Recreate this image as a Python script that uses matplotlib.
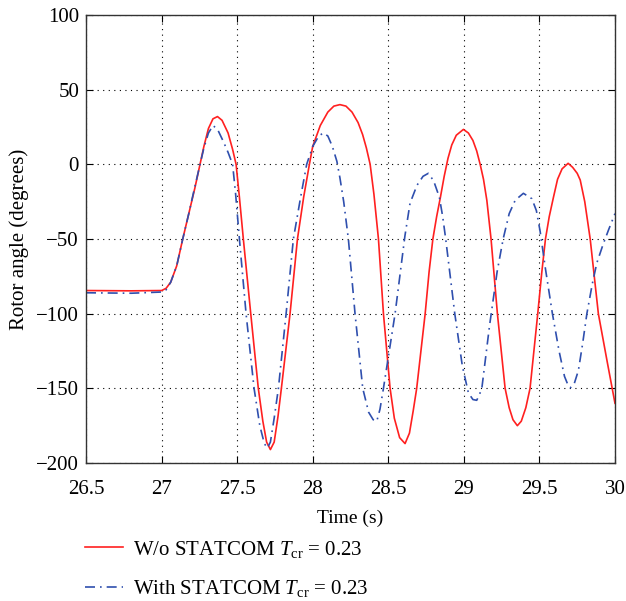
import matplotlib
matplotlib.use("Agg")
import matplotlib.pyplot as plt

plt.rcParams['font.family'] = ['Liberation Serif', 'DejaVu Serif']
plt.rcParams['mathtext.fontset'] = 'custom'
plt.rcParams['mathtext.rm'] = 'Liberation Serif'
plt.rcParams['mathtext.it'] = 'Liberation Serif:italic'

# rotor angle without STATCOM
t_wo = [26.5, 26.8, 27.0, 27.03, 27.06, 27.1, 27.14, 27.18, 27.22, 27.25, 27.28, 27.31,
        27.34, 27.37, 27.4, 27.44, 27.47, 27.493, 27.515, 27.541, 27.59, 27.64, 27.67,
        27.695, 27.72, 27.745, 27.77, 27.795, 27.85, 27.899, 27.94, 27.978, 28.0, 28.05,
        28.1, 28.14, 28.18, 28.22, 28.26, 28.3, 28.33, 28.355, 28.38, 28.405,
        28.435, 28.468, 28.512, 28.54, 28.575, 28.611, 28.64, 28.665, 28.688, 28.744,
        28.77, 28.795, 28.82, 28.845, 28.87, 28.895, 28.92, 28.95, 28.997, 29.03, 29.06,
        29.085, 29.108, 29.13, 29.152, 29.18, 29.222, 29.273, 29.3, 29.325, 29.354, 29.38,
        29.41, 29.438, 29.489, 29.515, 29.54, 29.565, 29.593, 29.62, 29.65, 29.69, 29.72,
        29.75, 29.77, 29.8, 29.836, 29.89, 29.95, 30.0]
a_wo = [-84.5, -84.7, -84.5, -83, -79, -68, -50, -33, -16, -2, 12, 24,
        30.5, 32, 29.5, 21, 10, 0, -22, -50, -100, -150, -172,
        -186, -191, -186, -169, -148, -100, -50, -22, 0, 12, 26,
        35, 39, 40, 39, 35, 28, 20, 11, 0, -20,
        -50, -100, -150, -170, -183, -187, -180, -165, -150, -100,
        -72, -50, -35, -22, -8, 4, 13, 19.5, 23.4, 21, 16,
        9, 0, -10, -24, -50, -100, -150, -163, -171, -175, -172,
        -163, -150, -100, -73, -50, -35, -22, -10, -3, 0.7, -2,
        -6, -10.5, -25, -50, -100, -133, -160]

# rotor angle with STATCOM
t_st = [26.5, 26.8, 27.0, 27.03, 27.06, 27.1, 27.14, 27.18, 27.22, 27.25, 27.28, 27.31,
        27.34, 27.37, 27.41, 27.44, 27.47, 27.49, 27.515, 27.559, 27.612, 27.65, 27.68,
        27.7, 27.72, 27.745, 27.773, 27.824, 27.872, 27.92, 27.96, 28.0, 28.04, 28.07,
        28.1, 28.13, 28.16, 28.18, 28.205, 28.236, 28.28, 28.331, 28.37, 28.4, 28.424,
        28.445, 28.468, 28.545, 28.61, 28.644, 28.69, 28.73, 28.765, 28.8, 28.838, 28.86,
        28.88, 28.94, 28.99, 29.03, 29.06, 29.085, 29.1, 29.119, 29.17, 29.22, 29.26,
        29.3, 29.34, 29.394, 29.45, 29.48, 29.505, 29.54, 29.586, 29.63, 29.666, 29.69,
        29.705, 29.73, 29.758, 29.786, 29.814, 29.85, 29.88, 29.92, 29.957, 30.0]
a_st = [-86, -86.3, -85.5, -84, -79, -68, -50, -33, -15, -2, 11, 21,
        26, 23.5, 15, 8, 0, -20, -50, -100, -150, -175, -187,
        -190, -186, -170, -150, -100, -50, -22, 0, 12, 19, 21,
        19, 12, 2, -9, -25, -50, -100, -150, -166, -171, -172,
        -164, -150, -100, -48, -26, -14, -8, -6, -11, -22, -35,
        -50, -100, -135, -153, -157.5, -158, -155, -150, -108, -72, -50,
        -33, -24, -19.4, -23, -31, -45, -70, -100, -125, -142, -148,
        -149.6, -147, -138, -120, -100, -80, -66, -54, -44, -33]

x_ticks = [26.5, 27, 27.5, 28, 28.5, 29, 29.5, 30]
x_labels = ['26.5', '27', '27.5', '28', '28.5', '29', '29.5', '30']
y_ticks = [-200, -150, -100, -50, 0, 50, 100]

fig = plt.figure(figsize=(6.26, 6.01), dpi=100)
ax = fig.add_axes([0.1374, 0.2296, 0.845, 0.7454])

line_wo, = ax.plot(t_wo, a_wo, color='#ff2020', lw=1.2,
                   label=r'W/o STATCOM $T_{\rm cr}$ = 0.23')
line_st, = ax.plot(t_st, a_st, color='#2f4fae', lw=1.2, linestyle=(0, (6, 3, 1, 3)),
                   label=r'With STATCOM $T_{\rm cr}$ = 0.23')

ax.set_xlim(26.5, 30)
ax.set_ylim(-200, 100)
ax.set_xticks(x_ticks)
ax.set_xticklabels(x_labels)
ax.set_yticks(y_ticks)
ax.grid(True, color='black', linestyle=(0, (1, 4)), linewidth=0.8)
ax.tick_params(direction='in', top=True, right=True, labelsize=15, length=5)
ax.tick_params(axis='x', pad=12)
ax.tick_params(axis='y', pad=5)
for sp in ax.spines.values():
    sp.set_color('#333333')
    sp.set_linewidth(1.0)

ax.set_xlabel('Time (s)', fontsize=14, labelpad=8)
ax.set_ylabel('Rotor angle (degrees)', fontsize=15, labelpad=5)

fig.legend(handles=[line_wo, line_st], loc='upper left', bbox_to_anchor=(0.106, 0.135),
           frameon=False, fontsize=15, handlelength=1.8, labelspacing=0.9,
           handletextpad=0.5)

fig.savefig('out.png', dpi=100)
